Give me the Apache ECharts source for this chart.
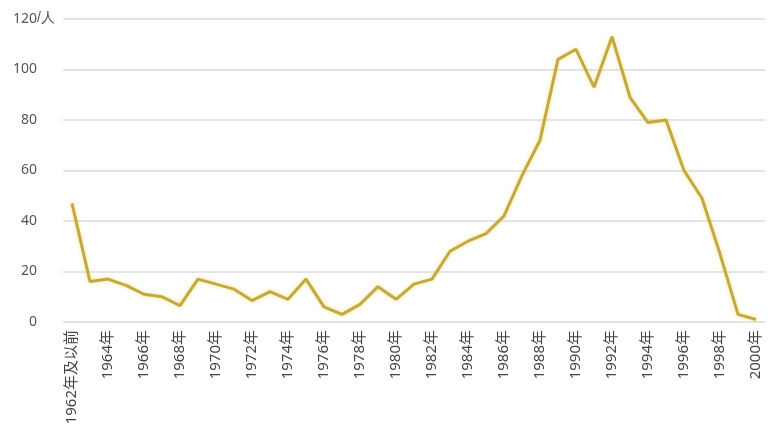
<!DOCTYPE html>
<html>
<head>
<meta charset="utf-8">
<script src="https://cdn.jsdelivr.net/npm/echarts@6/dist/echarts.min.js"></script>
<style>
  html, body { margin: 0; padding: 0; background: #fff; }
  #main { width: 771px; height: 447px; }
</style>
</head>
<body>
<div id="main"></div>
<script>
// years along the bottom
var categories = [
  '1962年及以前', '1963年', '1964年', '1965年', '1966年', '1967年', '1968年', '1969年',
  '1970年', '1971年', '1972年', '1973年', '1974年', '1975年', '1976年', '1977年',
  '1978年', '1979年', '1980年', '1981年', '1982年', '1983年', '1984年', '1985年',
  '1986年', '1987年', '1988年', '1989年', '1990年', '1991年', '1992年', '1993年',
  '1994年', '1995年', '1996年', '1997年', '1998年', '1999年', '2000年'
];

// number of people per year
var people = [
  47, 16, 17, 14.5, 11, 10, 6.5, 17,
  15, 13, 8.5, 12, 9, 17, 6, 3,
  7, 14, 9, 15, 17, 28, 32, 35,
  42, 58, 72, 104, 108, 93, 113, 89,
  79, 80, 60, 49, 27, 3, 1
];

var yTicks = [0, 20, 40, 60, 80, 100, 120];
var yUnit = '/人';

var fontFamily = '"Noto Sans", "Noto Sans CJK SC", sans-serif';

var myChart = echarts.init(document.getElementById('main'));
var option = {
  animation: false,
  backgroundColor: '#fff',
  textStyle: { fontFamily: fontFamily },
  grid: { left: 63, right: 6, top: 19, bottom: 125 },
  xAxis: {
    type: 'category',
    data: categories,
    boundaryGap: true,
    axisLine: { show: false },
    axisTick: { show: false },
    axisLabel: {
      interval: 1,
      rotate: 90,
      margin: 8,
      fontSize: 15,
      color: '#444',
      fontFamily: fontFamily
    }
  },
  yAxis: {
    type: 'value',
    min: yTicks[0],
    max: yTicks[yTicks.length - 1],
    interval: 20,
    axisLine: { show: false },
    axisTick: { show: false },
    splitLine: { lineStyle: { color: '#e4e4e4', width: 2 } },
    axisLabel: {
      margin: 26,
      fontSize: 14,
      color: '#555',
      fontFamily: fontFamily
    }
  },
  graphic: [{
    type: 'text',
    left: 37,
    top: 11,
    style: { text: yUnit, fontSize: 14, fill: '#555', font: '14px ' + fontFamily }
  }],
  series: [{
    type: 'line',
    data: people,
    symbol: 'none',
    lineStyle: {
      color: '#c4a840',
      width: 3,
      shadowColor: 'rgba(240, 220, 100, 0.7)',
      shadowBlur: 4
    }
  }]
};
myChart.setOption(option);
</script>
</body>
</html>
